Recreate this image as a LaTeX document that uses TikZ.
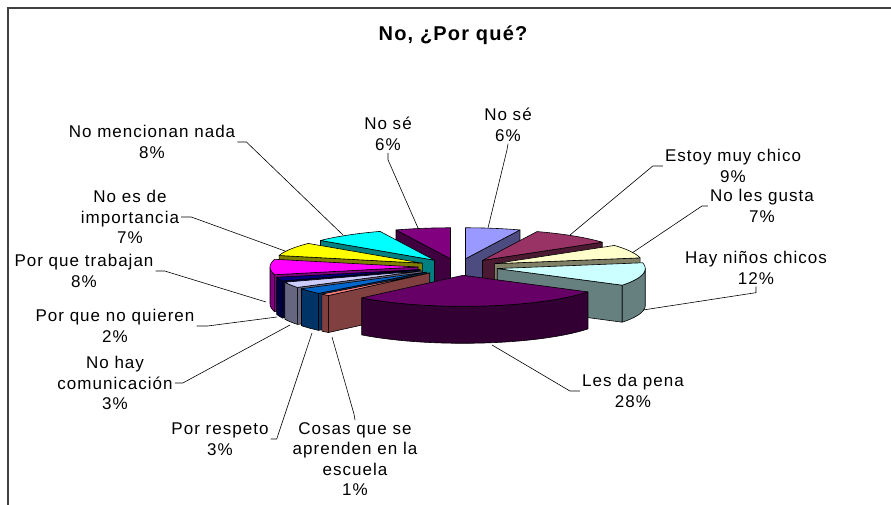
\documentclass[tikz,border=0pt]{standalone}
\usepackage{fontspec}
\setmainfont{Liberation Sans}[LetterSpace=6]
\begin{document}
\begin{tikzpicture}[x=1pt,y=-1pt,
  face/.style={draw=black,line width=0.6pt,line join=round},
  lbl/.style={align=center,inner sep=2pt,font=\fontsize{17}{20.5}\selectfont},
  ttl/.style={inner sep=0pt,font=\fontsize{20}{24}\selectfont\bfseries},
  leader/.style={draw=black,line width=0.6pt},
  frame/.style={draw=black!75,line width=1.3pt}]
\useasboundingbox (0,0) rectangle (891,505);
\def\pcx{458}\def\pcy{267}\def\prx{148}\def\pry{31}\def\pex{0.27}\def\pdep{37}
\definecolor{c1}{HTML}{9999FF}\definecolor{c2}{HTML}{993366}
\definecolor{c3}{HTML}{FFFFCC}\definecolor{c4}{HTML}{CCFFFF}
\definecolor{c5}{HTML}{660066}\definecolor{c6}{HTML}{FF8080}
\definecolor{c7}{HTML}{0066CC}\definecolor{c8}{HTML}{CCCCFF}
\definecolor{c9}{HTML}{000080}\definecolor{c10}{HTML}{FF00FF}
\definecolor{c11}{HTML}{FFFF00}\definecolor{c12}{HTML}{00FFFF}
\definecolor{c13}{HTML}{800080}
\newcommand\pieApex[2]{%
  \pgfmathsetmacro\pM{(#1+#2)/2}%
  \pgfmathsetmacro\pAx{\pcx+\pex*\prx*sin(\pM)}%
  \pgfmathsetmacro\pAy{\pcy-\pex*\pry*cos(\pM)}}
\newcommand\pieSide[3]{%
  \pieApex{#1}{#2}%
  \pgfmathtruncatemacro\pVs{(sin(#1)+0.001<0) ? 1 : 0}%
  \ifnum\pVs=1
    \filldraw[face,fill=#3!50!black] ({\pAx},{\pAy}) -- ({\pAx+\prx*sin(#1)},{\pAy-\pry*cos(#1)})
      -- ({\pAx+\prx*sin(#1)},{\pAy-\pry*cos(#1)+\pdep}) -- ({\pAx},{\pAy+\pdep}) -- cycle;
  \fi
  \pgfmathtruncatemacro\pVe{(sin(#2)>0.001) ? 1 : 0}%
  \ifnum\pVe=1
    \filldraw[face,fill=#3!50!black] ({\pAx},{\pAy}) -- ({\pAx+\prx*sin(#2)},{\pAy-\pry*cos(#2)})
      -- ({\pAx+\prx*sin(#2)},{\pAy-\pry*cos(#2)+\pdep}) -- ({\pAx},{\pAy+\pdep}) -- cycle;
  \fi
  \pgfmathsetmacro\pLo{max(#1,90)}%
  \pgfmathsetmacro\pHi{min(#2,270)}%
  \pgfmathtruncatemacro\pVo{(\pHi>\pLo+0.01) ? 1 : 0}%
  \ifnum\pVo=1
    \filldraw[face,fill=#3!50!black]
      plot[domain=\pLo:\pHi,samples=30,variable=\pa] ({\pAx+\prx*sin(\pa)},{\pAy-\pry*cos(\pa)})
      -- plot[domain=\pHi:\pLo,samples=30,variable=\pa] ({\pAx+\prx*sin(\pa)},{\pAy-\pry*cos(\pa)+\pdep})
      -- cycle;
  \fi}
\newcommand\pieTop[3]{%
  \pieApex{#1}{#2}%
  \filldraw[face,fill=#3] ({\pAx},{\pAy})
    -- plot[domain=#1:#2,samples=40,variable=\pa] ({\pAx+\prx*sin(\pa)},{\pAy-\pry*cos(\pa)}) -- cycle;}
% frame
\draw[frame] (8,505) -- (8,8) -- (891,8);
% side faces, back to front
\pieSide{0}{21.6}{c1}
\pieSide{338.4}{360}{c13}
\pieSide{309.6}{338.4}{c12}
\pieSide{21.6}{54}{c2}
\pieSide{284.4}{309.6}{c11}
\pieSide{54}{79.2}{c3}
\pieSide{255.6}{284.4}{c10}
\pieSide{79.2}{122.4}{c4}
\pieSide{248.4}{255.6}{c9}
\pieSide{237.6}{248.4}{c8}
\pieSide{226.8}{237.6}{c7}
\pieSide{223.2}{226.8}{c6}
\pieSide{122.4}{223.2}{c5}
% top faces
\pieTop{0}{21.6}{c1}
\pieTop{21.6}{54}{c2}
\pieTop{54}{79.2}{c3}
\pieTop{79.2}{122.4}{c4}
\pieTop{122.4}{223.2}{c5}
\pieTop{223.2}{226.8}{c6}
\pieTop{226.8}{237.6}{c7}
\pieTop{237.6}{248.4}{c8}
\pieTop{248.4}{255.6}{c9}
\pieTop{255.6}{284.4}{c10}
\pieTop{284.4}{309.6}{c11}
\pieTop{309.6}{338.4}{c12}
\pieTop{338.4}{360}{c13}
% title
\node[ttl] (title) at (453,35) {No, ¿Por qué?};
% labels
\node[lbl] (lNR) at (508,125) {No sé\\6\%};
\node[lbl] (lNL) at (388,134) {No sé\\6\%};
\node[lbl] (lEst) at (733,166) {Estoy muy chico\\9\%};
\node[lbl] (lNoLes) at (762,206) {No les gusta\\7\%};
\node[lbl] (lHayN) at (756,268) {Hay niños chicos\\12\%};
\node[lbl] (lLes) at (633,391) {Les da pena\\28\%};
\node[lbl] (lCos) at (355,459) {Cosas que se\\aprenden en la\\escuela\\1\%};
\node[lbl] (lResp) at (220,439) {Por respeto\\3\%};
\node[lbl] (lHay) at (115,383) {No hay\\comunicación\\3\%};
\node[lbl] (lQui) at (115,326) {Por que no quieren\\2\%};
\node[lbl] (lTrab) at (84,271) {Por que trabajan\\8\%};
\node[lbl] (lImp) at (130,217) {No es de\\importancia\\7\%};
\node[lbl] (lMenc) at (152,142) {No mencionan nada\\8\%};
% leader end points on the slices
\coordinate (pNR) at (488,228);
\coordinate (pNL) at (418,228);
\coordinate (pEst) at (570,235);
\coordinate (pNoLes) at (632,253);
\coordinate (pHayN) at (643,310);
\coordinate (pLes) at (492,345);
\coordinate (pCos) at (332,337);
\coordinate (pResp) at (312,333);
\coordinate (pHay) at (290,325);
\coordinate (pQui) at (277,317);
\coordinate (pTrab) at (266,302);
\coordinate (pImp) at (285,251);
\coordinate (pMenc) at (343,235);
% leaders
\draw[leader] (lNR.south) -- ++(-1,6) -- (pNR);
\draw[leader] (lNL.south) -- ++(0,7) -- (pNL);
\draw[leader] (lEst.west) -- ++(-10,0) -- (pEst);
\draw[leader] (lNoLes.west) -- ++(-6,0) -- (pNoLes);
\draw[leader] (lHayN.south) -- ++(0,6) -- (pHayN);
\draw[leader] (lLes.west) -- ++(-10,0) -- (pLes);
\draw[leader] (lCos.north) -- ++(-1,-6) -- (pCos);
\draw[leader] (lResp.east) -- ++(6,0) -- (pResp);
\draw[leader] (lHay.east) -- ++(8,0) -- (pHay);
\draw[leader] (lQui.east) -- ++(11,0) -- (pQui);
\draw[leader] (lTrab.east) -- ++(9,0) -- (pTrab);
\draw[leader] (lImp.east) -- ++(10,0) -- (pImp);
\draw[leader] (lMenc.east) -- ++(9,0) -- (pMenc);
\end{tikzpicture}
\end{document}
